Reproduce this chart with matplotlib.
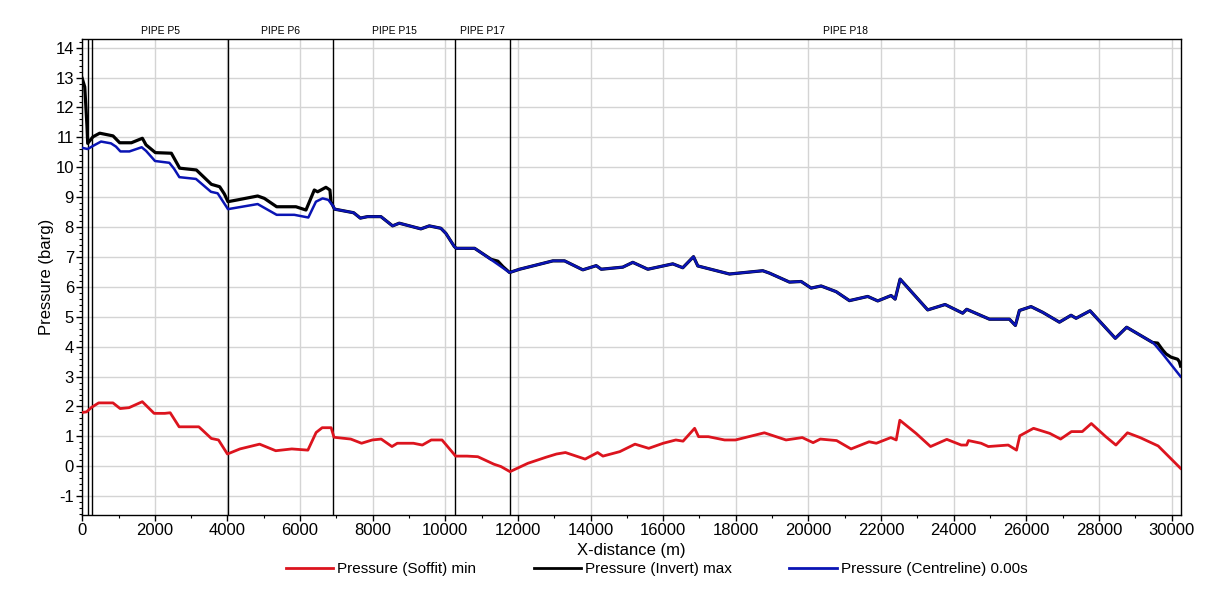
"""Pressure profile along the pipeline: soffit min, invert max, centreline at t=0."""

import matplotlib
matplotlib.use("Agg")
import matplotlib.pyplot as plt
from matplotlib.lines import Line2D
from matplotlib.ticker import MultipleLocator

plt.rcParams["font.family"] = ["Liberation Sans", "DejaVu Sans"]
plt.rcParams["axes.unicode_minus"] = False

# Pipe boundaries (m) and the labels of the segments between them
pipe_edges = [0, 165, 275, 4021, 6912, 10272, 11786, 30260]
pipe_labels = ["", "", "PIPE P5", "PIPE P6", "PIPE P15", "PIPE P17", "PIPE P18"]

# Pressure (Soffit) min
soffit_x = [0, 120, 256, 453, 847, 1044, 1290, 1655, 1980, 2275, 2423, 2669, 3211, 3310,
            3556, 3753, 3999, 4344, 4885, 5329, 5772, 6215, 6442, 6609, 6856, 6934, 7397,
            7693, 7988, 8234, 8530, 8678, 9121, 9367, 9613, 9909, 10284, 10599, 10895,
            11337, 11534, 11781, 12274, 12767, 13062, 13308, 13604, 13850, 14193, 14341,
            14806, 15224, 15602, 16000, 16348, 16547, 16866, 16975, 17244, 17692, 17990,
            18786, 19383, 19831, 20129, 20328, 20776, 21174, 21671, 21870, 22269, 22418,
            22517, 22965, 23363, 23811, 24209, 24358, 24408, 24756, 24955, 25502, 25731,
            25821, 26199, 26647, 26945, 27244, 27542, 27791, 28189, 28468, 28786, 29134,
            29632, 30250]
soffit_y = [1.80, 1.82, 1.97, 2.12, 2.12, 1.93, 1.96, 2.16, 1.77, 1.77, 1.79, 1.32, 1.32, 1.21,
            0.93, 0.88, 0.41, 0.58, 0.74, 0.52, 0.58, 0.54, 1.13, 1.29, 1.29, 0.97, 0.91,
            0.77, 0.88, 0.91, 0.66, 0.77, 0.77, 0.71, 0.88, 0.88, 0.34, 0.34, 0.32,
            0.07, -0.01, -0.18, 0.10, 0.30, 0.41, 0.46, 0.34, 0.24, 0.46, 0.34,
            0.49, 0.74, 0.60, 0.77, 0.88, 0.84, 1.27, 0.99, 0.99, 0.88, 0.88,
            1.12, 0.88, 0.96, 0.79, 0.91, 0.86, 0.58, 0.82, 0.77, 0.96, 0.88,
            1.54, 1.10, 0.66, 0.90, 0.71, 0.71, 0.86, 0.77, 0.66, 0.71, 0.54,
            1.02, 1.27, 1.10, 0.91, 1.16, 1.16, 1.43, 0.99, 0.71, 1.12, 0.96,
            0.68, -0.07]

# Pressure (Invert) max - upstream part where it sits above the centreline
invert_head_x = [0, 69, 96, 132, 151, 297, 482, 848, 1032, 1354, 1657, 1757, 2015, 2455,
                 2684, 3144, 3557, 3785, 3914, 4014, 4281, 4832, 5016, 5355, 5886, 6162,
                 6392, 6483, 6712, 6822, 6850, 6924]
invert_head_y = [12.97, 12.69, 12.14, 11.36, 10.80, 11.02, 11.14, 11.05, 10.82, 10.82, 10.97,
                 10.75, 10.49, 10.47, 9.97, 9.91, 9.43, 9.35, 9.11, 8.85, 8.91, 9.04, 8.96,
                 8.68, 8.68, 8.57, 9.24, 9.18, 9.33, 9.24, 8.85, 8.66]

# Pressure (Centreline) 0.00s - upstream part
centre_head_x = [0, 151, 289, 518, 793, 931, 1051, 1300, 1638, 1757, 2005, 2400, 2530, 2675,
                 3133, 3546, 3730, 4014, 4832, 5355, 5841, 6227, 6437, 6621, 6778, 6924]
centre_head_y = [10.65, 10.61, 10.71, 10.86, 10.80, 10.69, 10.53, 10.53, 10.67, 10.55, 10.21,
                 10.15, 9.95, 9.67, 9.61, 9.18, 9.13, 8.60, 8.77, 8.41, 8.41, 8.32, 8.85,
                 8.96, 8.91, 8.68]

# Both curves coincide here
shared_a_x = [6950, 7475, 7659, 7860, 8226, 8548, 8732, 9327, 9558, 9878, 10015, 10247,
              10301, 10806, 10943]
shared_a_y = [8.60, 8.48, 8.30, 8.35, 8.35, 8.04, 8.13, 7.94, 8.04, 7.96, 7.79, 7.35,
              7.29, 7.29, 7.18]

# Short stretch in PIPE P17 where invert separates
invert_mid_x = [11265, 11447, 11585]
invert_mid_y = [6.92, 6.86, 6.68]

shared_b_x = [11769, 12044, 12504, 12962, 13283, 13787, 14156, 14294, 14888, 15163, 15577,
              16265, 16540, 16835, 16953, 17826, 18743, 18927, 19478, 19800, 20075, 20350,
              20763, 21129, 21634, 21909, 22277, 22388, 22525, 23285, 23764, 24249, 24359,
              24984, 25534, 25700, 25810, 26131, 26450, 26912, 27233, 27371, 27756, 28452,
              28764, 29479]
shared_b_y = [6.48, 6.59, 6.73, 6.87, 6.87, 6.57, 6.71, 6.59, 6.66, 6.82, 6.59,
              6.77, 6.64, 7.01, 6.70, 6.43, 6.54, 6.46, 6.16, 6.18, 5.96, 6.03,
              5.84, 5.54, 5.68, 5.53, 5.71, 5.59, 6.26, 5.23, 5.41, 5.12, 5.25,
              4.92, 4.92, 4.71, 5.21, 5.34, 5.15, 4.82, 5.05, 4.95, 5.20, 4.28,
              4.65, 4.14]

invert_tail_x = [29618, 29755, 29848, 29986, 30167, 30214, 30250]
invert_tail_y = [4.12, 3.89, 3.76, 3.65, 3.58, 3.50, 3.35]
centre_tail_x = [29548, 29755, 30250]
centre_tail_y = [4.06, 3.76, 3.00]

invert_x = invert_head_x + shared_a_x + invert_mid_x + shared_b_x + invert_tail_x
invert_y = invert_head_y + shared_a_y + invert_mid_y + shared_b_y + invert_tail_y
centre_x = centre_head_x + shared_a_x + shared_b_x + centre_tail_x
centre_y = centre_head_y + shared_a_y + shared_b_y + centre_tail_y

RED = "#dc141e"
BLUE = "#0a14b4"

fig = plt.figure(figsize=(12.18, 6.02), dpi=100)
ax = fig.add_axes([0.0675, 0.1445, 0.9021, 0.7902])

ax.plot(soffit_x, soffit_y, color=RED, lw=2.0, zorder=3)
ax.plot(invert_x, invert_y, color="black", lw=2.3, zorder=4)
ax.plot(centre_x, centre_y, color=BLUE, lw=1.8, zorder=5)

for edge in pipe_edges[1:-1]:
    ax.axvline(edge, color="black", lw=1.0, zorder=2)

for left, right, name in zip(pipe_edges[:-1], pipe_edges[1:], pipe_labels):
    if name:
        ax.text((left + right) / 2, 1.006, name, transform=ax.get_xaxis_transform(),
                ha="center", va="bottom", fontsize=7.5)

ax.set_xlim(0, 30260)
ax.set_ylim(-1.63, 14.28)
ax.xaxis.set_major_locator(MultipleLocator(2000))
ax.xaxis.set_minor_locator(MultipleLocator(1000))
ax.yaxis.set_major_locator(MultipleLocator(1))
ax.yaxis.set_minor_locator(MultipleLocator(0.2))
ax.grid(True, which="major", color="#d4d4d4", lw=1.0, zorder=0)
ax.tick_params(which="major", length=4, width=1, labelsize=12, pad=2)
ax.tick_params(which="minor", length=2.5, width=0.8)
for side in ax.spines.values():
    side.set_color("black")
    side.set_linewidth(1.0)

ax.set_xlabel("X-distance (m)", fontsize=12, labelpad=3)
ax.set_ylabel("Pressure (barg)", fontsize=12, labelpad=1)

handles = [
    Line2D([], [], color=RED, lw=2),
    Line2D([], [], color="black", lw=2),
    Line2D([], [], color=BLUE, lw=2),
]
names = ["Pressure (Soffit) min", "Pressure (Invert) max", "Pressure (Centreline) 0.00s"]
fig.legend(handles, names, loc="center left", bbox_to_anchor=(0.2233, 0.055), ncol=3,
           frameon=False, fontsize=11, handlelength=3.1, handletextpad=0.27,
           columnspacing=3.75)

fig.savefig("out.png", dpi=100)
